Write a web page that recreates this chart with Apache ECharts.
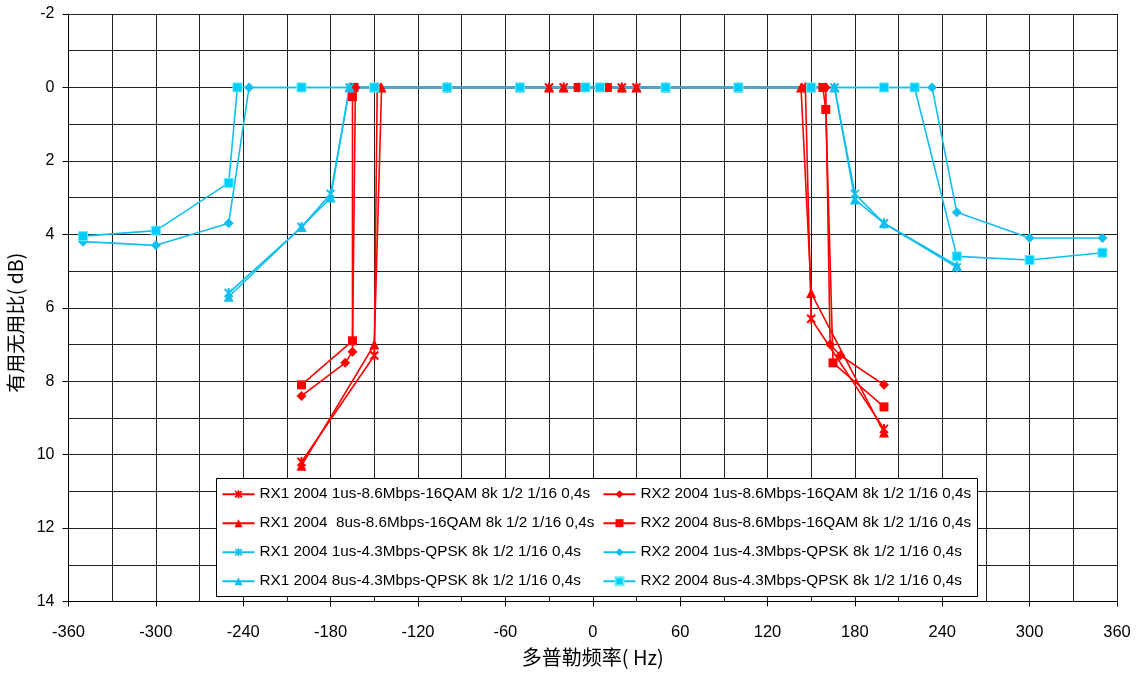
<!DOCTYPE html>
<html>
<head>
<meta charset="utf-8">
<script src="https://cdn.jsdelivr.net/npm/echarts@6/dist/echarts.min.js"></script>
<style>
html,body{margin:0;padding:0;background:#fff;}
#chart{width:1142px;height:678px;}
</style>
</head>
<body>
<div id="chart"></div>
<script>
// ---- data (x = Doppler frequency Hz, y = C/N dB) ----
const seriesNames = [
  'RX1 2004 1us-8.6Mbps-16QAM 8k 1/2 1/16 0,4s',
  'RX1 2004  8us-8.6Mbps-16QAM 8k 1/2 1/16 0,4s',
  'RX1 2004 1us-4.3Mbps-QPSK 8k 1/2 1/16 0,4s',
  'RX1 2004 8us-4.3Mbps-QPSK 8k 1/2 1/16 0,4s',
  'RX2 2004 1us-8.6Mbps-16QAM 8k 1/2 1/16 0,4s',
  'RX2 2004 8us-8.6Mbps-16QAM 8k 1/2 1/16 0,4s',
  'RX2 2004 1us-4.3Mbps-QPSK 8k 1/2 1/16 0,4s',
  'RX2 2004 8us-4.3Mbps-QPSK 8k 1/2 1/16 0,4s'
];
const rx1_1us_16qam = [[-200,10.2],[-150,7.3],[-148,0],[-30,0],[-20,0],[20,0],[30,0],[146,0],[150,6.3],[200,9.3]];
const rx1_8us_16qam = [[-200,10.3],[-150,7.0],[-145,0],[-30,0],[-20,0],[20,0],[30,0],[143,0],[150,5.6],[200,9.4]];
const rx1_1us_qpsk  = [[-250,5.6],[-200,3.8],[-180,2.9],[-167,0],[-150,0],[-100,0],[-50,0],[50,0],[100,0],[150,0],[166,0],[180,2.9],[200,3.7],[250,4.9]];
const rx1_8us_qpsk  = [[-250,5.7],[-200,3.8],[-180,3.0],[-167,0],[-150,0],[-100,0],[-50,0],[50,0],[100,0],[150,0],[166,0],[180,3.05],[200,3.7],[250,4.85]];
const rx2_1us_16qam = [[-200,8.4],[-170,7.5],[-165,7.2],[-163,0],[-10,0],[10,0],[160,0],[163,7.0],[170,7.3],[200,8.1]];
const rx2_8us_16qam = [[-200,8.1],[-165,6.9],[-165,0.25],[-164,0],[-10,0],[10,0],[158,0],[160,0.6],[165,7.5],[200,8.7]];
const rx2_1us_qpsk  = [[-350,4.2],[-300,4.3],[-250,3.7],[-236,0],[-200,0],[-150,0],[-100,0],[-50,0],[-5,0],[5,0],[50,0],[100,0],[150,0],[200,0],[233,0],[250,3.4],[300,4.1],[350,4.1]];
const rx2_8us_qpsk  = [[-350,4.05],[-300,3.9],[-250,2.6],[-244,0],[-200,0],[-150,0],[-100,0],[-50,0],[-5,0],[5,0],[50,0],[100,0],[150,0],[200,0],[221,0],[250,4.6],[300,4.7],[350,4.5]];
const xAxisName = '多普勒频率( Hz)';
const yAxisName = '有用无用比( dB)';

// ---- styling ----
const RED = '#FF0000';
const CYAN = '#10BFEF';
const FONT = "'Liberation Sans', Arial, 'Noto Sans CJK SC', sans-serif";
const CJKFONT = "'Noto Sans CJK SC', 'Liberation Sans', sans-serif";
const ASTERISK = 'path://M4,0H6V10H4Z M0.3,1.7L1.7,0.3L9.7,8.3L8.3,9.7Z M8.3,0.3L9.7,1.7L1.7,9.7L0.3,8.3Z';

function mk(name, data, color, symbol, size, extraItem) {
  return {
    name: name, type: 'line', data: data,
    symbol: symbol, symbolSize: size, symbolKeepAspect: true,
    lineStyle: { color: color, width: 1.6 },
    itemStyle: Object.assign({ color: color }, extraItem || {}),
    emphasis: { disabled: true },
    animation: false
  };
}

const series = [
  mk(seriesNames[0], rx1_1us_16qam, RED, ASTERISK, 10),
  mk(seriesNames[1], rx1_8us_16qam, RED, 'triangle', 10),
  mk(seriesNames[4], rx2_1us_16qam, RED, 'diamond', 10),
  mk(seriesNames[5], rx2_8us_16qam, RED, 'rect', 9),
  mk(seriesNames[2], rx1_1us_qpsk, CYAN, ASTERISK, 10),
  mk(seriesNames[3], rx1_8us_qpsk, CYAN, 'triangle', 10),
  mk(seriesNames[6], rx2_1us_qpsk, CYAN, 'diamond', 10),
  mk(seriesNames[7], rx2_8us_qpsk, '#00CCFF', 'rect', 9, { borderColor: '#66EEF5', borderWidth: 1 })
];
series[7].lineStyle.color = CYAN;

const chart = echarts.init(document.getElementById('chart'), null, { renderer: 'canvas' });
chart.setOption({
  backgroundColor: '#ffffff',
  animation: false,
  textStyle: { fontFamily: FONT, color: '#000' },
  grid: { left: 68.5, right: 25, top: 14, bottom: 76.5, containLabel: false, outerBoundsMode: 'none' },
  xAxis: {
    type: 'value', min: -360, max: 360, interval: 60,
    name: xAxisName, nameLocation: 'middle', nameGap: 46,
    nameTextStyle: { fontSize: 20, fontFamily: CJKFONT, color: '#000' },
    axisLine: { show: true, onZero: false, lineStyle: { color: '#000', width: 1 } },
    axisTick: { show: true, inside: false, length: 5, lineStyle: { color: '#000' } },
    axisLabel: { fontSize: 16.5, fontFamily: FONT, color: '#000', margin: 23 },
    splitLine: { show: true, lineStyle: { color: '#222', width: 1 } },
    minorTick: { show: false, splitNumber: 2 },
    minorSplitLine: { show: true, lineStyle: { color: '#222', width: 1 } }
  },
  yAxis: {
    type: 'value', min: -2, max: 14, interval: 2, inverse: true,
    name: yAxisName, nameLocation: 'middle', nameGap: 40, nameRotate: 90,
    nameTextStyle: { fontSize: 19.5, fontFamily: CJKFONT, color: '#000', padding: [0, 30, 0, 0] },
    axisLine: { show: true, onZero: false, lineStyle: { color: '#000', width: 1 } },
    axisTick: { show: true, inside: false, length: 6, lineStyle: { color: '#000' } },
    axisLabel: { fontSize: 16, fontFamily: FONT, color: '#000', margin: 14 },
    splitLine: { show: true, lineStyle: { color: '#222', width: 1 } },
    minorTick: { show: false, splitNumber: 2 },
    minorSplitLine: { show: true, lineStyle: { color: '#222', width: 1 } }
  },
  graphic: [{
    type: 'rect', z: 3, zlevel: 0,
    shape: { x: 216.5, y: 478.5, width: 761, height: 118 },
    style: { fill: '#fff', stroke: '#000', lineWidth: 1 }
  }],
  legend: [
    {
      data: seriesNames.slice(0, 4), orient: 'vertical', left: 221.5, top: 486.5,
      padding: 0, itemGap: 13.7, itemWidth: 32, itemHeight: 10, z: 5,
      textStyle: { fontSize: 15.3, fontFamily: FONT, color: '#000', lineHeight: 15 },
      selectedMode: false
    },
    {
      data: seriesNames.slice(4, 8), orient: 'vertical', left: 602.5, top: 486.5,
      padding: 0, itemGap: 13.7, itemWidth: 32, itemHeight: 10, z: 5,
      textStyle: { fontSize: 15.3, fontFamily: FONT, color: '#000', lineHeight: 15 },
      selectedMode: false
    }
  ],
  series: series
});
</script>
</body>
</html>
